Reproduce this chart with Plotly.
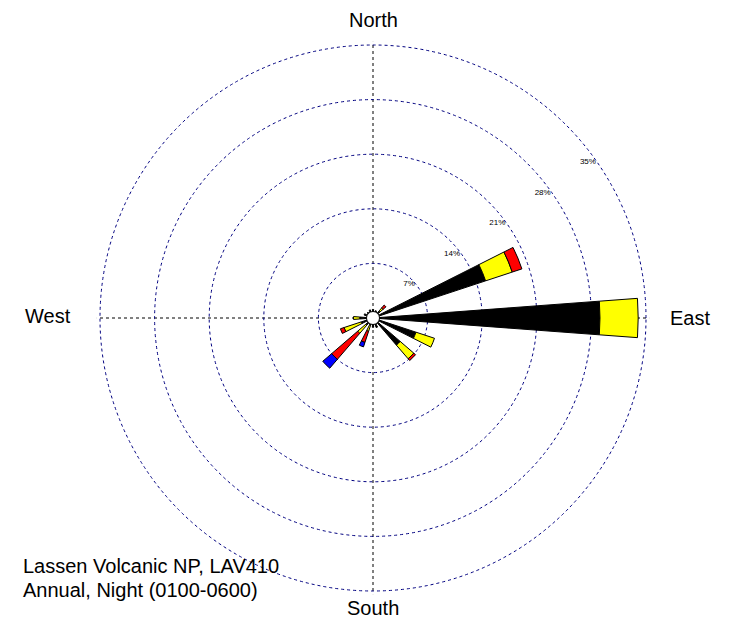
import plotly.graph_objects as go

directions = ["N", "NNE", "NE", "ENE", "E", "ESE", "SE", "SSE",
              "S", "SSW", "SW", "WSW", "W", "WNW", "NW", "NNW"]
angles = [0, 22.5, 45, 67.5, 90, 112.5, 135, 157.5,
          180, 202.5, 225, 247.5, 270, 292.5, 315, 337.5]

# percent frequency by speed class (stacked outward)
class1_black = [1.1, 1.0, 1.2, 15.2, 29.1, 5.8, 4.6, 1.3, 1.2, 1.0, 1.2, 1.6, 1.7, 1.2, 1.0, 1.1]
class2_yellow = [0, 0, 0.5, 3.6, 4.9, 2.5, 2.3, 0, 0, 0.8, 1.4, 2.3, 0.8, 0, 0, 0]
class3_red = [0, 0, 0.5, 1.3, 0, 0, 0.3, 0, 0, 1.5, 4.4, 0.5, 0, 0, 0, 0]
class4_blue = [0, 0, 0, 0, 0, 0, 0, 0, 0, 0.6, 1.5, 0, 0, 0, 0, 0]

series = [("Class 1", class1_black, "#000000"),
          ("Class 2", class2_yellow, "#FFFF00"),
          ("Class 3", class3_red, "#FF0000"),
          ("Class 4", class4_blue, "#0000FF")]

ring_vals = [7, 14, 21, 28, 35]
ring_text = ["7%", "14%", "21%", "28%", "35%"]

W, H = 733, 625
OFF = 8  # page body margin
RMAX = 35.4
cx, cy = 373 - OFF, 318 - OFF
R = 273 * RMAX / 35

fig = go.Figure()
for name, vals, col in series:
    fig.add_trace(go.Barpolar(
        r=vals, theta=angles, width=8.5, name=name,
        marker=dict(color=col, line=dict(color="#000000", width=1)),
        showlegend=False, hoverinfo="skip"))

# calm circle
fig.add_trace(go.Scatterpolar(
    r=[0], theta=[0], mode="markers",
    marker=dict(size=13, color="white", line=dict(color="black", width=1)),
    showlegend=False, hoverinfo="skip"))

fig.update_layout(
    width=W, height=H,
    margin=dict(l=0, r=0, t=0, b=0),
    paper_bgcolor="white", plot_bgcolor="white",
    font=dict(family="Liberation Sans, Arial, sans-serif", color="black"),
    polar=dict(
        domain=dict(x=[(cx - R) / W, (cx + R) / W], y=[1 - (cy + R) / H, 1 - (cy - R) / H]),
        bgcolor="rgba(0,0,0,0)",
        barmode="stack",
        angularaxis=dict(
            rotation=90, direction="clockwise",
            tickvals=[0, 90, 180, 270], ticktext=["", "", "", ""],
            showticklabels=False, ticks="",
            showline=False,
            showgrid=True, gridcolor="black", gridwidth=1, griddash="3px,3px",
        ),
        radialaxis=dict(
            range=[0, RMAX], tickvals=ring_vals, ticktext=ring_text,
            showline=False, ticks="", angle=34, tickangle=34, side="counterclockwise",
            tickfont=dict(size=8, color="black"),
            showgrid=True, gridcolor="#000080", gridwidth=1, griddash="3px,3px",
        ),
    ),
)

fig.add_annotation(text="North", x=(373 - OFF) / W, y=1.0, xref="paper", yref="paper",
                   showarrow=False, xanchor="center", yanchor="top", borderpad=0,
                   font=dict(size=20, color="black"))
labels = [("East", 690, 318), ("South", 373, 608), ("West", 48, 316)]
for txt, px, py in labels:
    fig.add_annotation(text=txt, x=(px - OFF) / W, y=1 - (py - OFF) / H, xref="paper", yref="paper",
                       showarrow=False, xanchor="center", yanchor="middle",
                       font=dict(size=20, color="black"))

fig.add_annotation(text="Lassen Volcanic NP, LAV410", x=(23 - OFF - 2) / W, y=1 - (566 - OFF) / H,
                   xref="paper", yref="paper", showarrow=False,
                   xanchor="left", yanchor="middle", font=dict(size=20, color="black"))
fig.add_annotation(text="Annual, Night (0100-0600)", x=(23 - OFF - 2) / W, y=1 - (590 - OFF) / H,
                   xref="paper", yref="paper", showarrow=False,
                   xanchor="left", yanchor="middle", font=dict(size=20, color="black"))

fig.write_html("out.html")
